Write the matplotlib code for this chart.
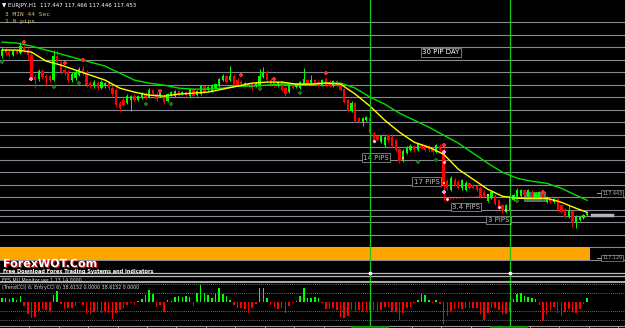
import matplotlib
matplotlib.use("Agg")
import matplotlib.pyplot as plt
import matplotlib.patheffects as pe
from matplotlib.patches import Rectangle
import numpy as np

# EURJPY H1 candles
opens = [
    118.128, 118.158, 118.148, 118.133, 118.153, 118.143, 118.173, 118.158, 118.133, 118.023,
    118.013, 118.053, 118.028, 118.028, 118.008, 118.128, 118.098, 118.058, 118.048, 118.008,
    118.018, 118.033, 118.063, 118.048, 117.993, 117.978, 117.993, 117.968, 117.978, 117.993,
    117.968, 117.958, 117.893, 117.908, 117.893, 117.908, 117.928, 117.908, 117.918, 117.938,
    117.923, 117.958, 117.938, 117.928, 117.928, 117.903, 117.933, 117.928, 117.953, 117.938,
    117.948, 117.928, 117.958, 117.933, 117.938, 117.978, 117.958, 117.953, 117.968, 117.978,
    118.008, 118.028, 118.008, 118.028, 118.008, 117.998, 117.983, 117.993, 117.988, 117.978,
    117.983, 118.023, 118.048, 118.008, 117.993, 117.978, 117.993, 117.968, 117.948, 117.988,
    117.973, 117.968, 117.988, 118.008, 117.993, 118.008, 117.998, 117.983, 118.013, 117.998,
    117.978, 118.003, 117.993, 117.963, 117.908, 117.853, 117.893, 117.818, 117.798, 117.808,
    117.818, 117.743, 117.728, 117.698, 117.683, 117.733, 117.723, 117.708, 117.663, 117.603,
    117.643, 117.658, 117.678, 117.658, 117.683, 117.683, 117.678, 117.668, 117.648, 117.678,
    117.658, 117.503, 117.458, 117.508, 117.498, 117.468, 117.458, 117.493, 117.483, 117.478,
    117.468, 117.448, 117.403, 117.418, 117.428, 117.408, 117.383, 117.348, 117.358, 117.408,
    117.423, 117.428, 117.458, 117.428, 117.448, 117.423, 117.423, 117.448, 117.398, 117.418,
    117.398, 117.413, 117.383, 117.363, 117.323, 117.353, 117.293, 117.308, 117.318, 117.333,
]
closes = [
    118.158, 118.143, 118.133, 118.153, 118.143, 118.178, 118.153, 118.133, 118.018, 118.008,
    118.053, 118.023, 118.018, 118.008, 118.128, 118.098, 118.048, 118.043, 118.008, 118.038,
    118.048, 118.063, 118.043, 117.983, 117.978, 117.998, 117.968, 117.998, 117.993, 117.968,
    117.938, 117.883, 117.868, 117.883, 117.928, 117.928, 117.908, 117.928, 117.943, 117.923,
    117.958, 117.938, 117.913, 117.948, 117.898, 117.938, 117.948, 117.953, 117.933, 117.948,
    117.933, 117.963, 117.928, 117.953, 117.978, 117.948, 117.973, 117.983, 117.988, 118.013,
    118.028, 117.998, 118.028, 117.983, 117.983, 117.988, 117.993, 117.978, 117.968, 117.993,
    118.028, 118.048, 118.008, 117.983, 117.983, 117.998, 117.958, 117.938, 117.988, 117.968,
    117.988, 117.998, 118.013, 117.988, 118.008, 117.993, 117.978, 118.008, 117.983, 117.978,
    118.003, 117.978, 117.958, 117.898, 117.853, 117.893, 117.803, 117.798, 117.818, 117.823,
    117.743, 117.708, 117.708, 117.728, 117.723, 117.708, 117.678, 117.658, 117.603, 117.653,
    117.668, 117.678, 117.658, 117.688, 117.668, 117.658, 117.658, 117.648, 117.683, 117.658,
    117.483, 117.468, 117.518, 117.483, 117.468, 117.508, 117.493, 117.468, 117.468, 117.458,
    117.423, 117.428, 117.428, 117.448, 117.388, 117.373, 117.353, 117.383, 117.428, 117.433,
    117.458, 117.458, 117.433, 117.458, 117.418, 117.443, 117.448, 117.408, 117.423, 117.398,
    117.413, 117.358, 117.348, 117.323, 117.358, 117.293, 117.328, 117.323, 117.333, 117.343,
]
highs = [
    118.173, 118.168, 118.158, 118.158, 118.163, 118.198, 118.183, 118.168, 118.148, 118.038,
    118.063, 118.063, 118.038, 118.033, 118.158, 118.158, 118.108, 118.068, 118.058, 118.048,
    118.058, 118.073, 118.078, 118.058, 118.003, 118.008, 118.003, 118.008, 117.998, 118.003,
    117.978, 117.968, 117.903, 117.918, 117.938, 117.933, 117.938, 117.933, 117.948, 117.948,
    117.968, 117.963, 117.948, 117.953, 117.938, 117.943, 117.953, 117.958, 117.958, 117.953,
    117.953, 117.968, 117.968, 117.958, 117.983, 117.983, 117.978, 117.988, 117.993, 118.018,
    118.038, 118.033, 118.078, 118.038, 118.018, 118.008, 117.998, 117.998, 117.993, 117.998,
    118.063, 118.073, 118.058, 118.018, 117.998, 118.003, 117.998, 117.978, 117.993, 117.993,
    117.993, 118.003, 118.068, 118.013, 118.033, 118.013, 118.008, 118.013, 118.023, 118.008,
    118.008, 118.008, 117.998, 117.968, 117.913, 117.903, 117.898, 117.823, 117.823, 117.828,
    117.823, 117.748, 117.738, 117.733, 117.728, 117.738, 117.733, 117.713, 117.668, 117.663,
    117.678, 117.688, 117.683, 117.693, 117.693, 117.688, 117.683, 117.678, 117.688, 117.688,
    117.668, 117.513, 117.528, 117.518, 117.508, 117.513, 117.503, 117.498, 117.488, 117.483,
    117.478, 117.458, 117.433, 117.453, 117.438, 117.413, 117.388, 117.388, 117.433, 117.438,
    117.468, 117.463, 117.463, 117.463, 117.458, 117.448, 117.453, 117.458, 117.428, 117.423,
    117.418, 117.418, 117.388, 117.368, 117.383, 117.358, 117.333, 117.328, 117.338, 117.348,
]
lows = [
    118.118, 118.133, 118.123, 118.128, 118.138, 118.138, 118.148, 118.108, 118.008, 117.968,
    118.003, 118.013, 117.983, 117.998, 118.003, 118.093, 118.038, 118.033, 117.998, 117.998,
    118.008, 118.028, 118.033, 117.973, 117.968, 117.968, 117.958, 117.963, 117.968, 117.958,
    117.928, 117.873, 117.848, 117.878, 117.888, 117.853, 117.903, 117.903, 117.913, 117.913,
    117.918, 117.933, 117.903, 117.923, 117.888, 117.898, 117.928, 117.923, 117.928, 117.933,
    117.928, 117.923, 117.918, 117.928, 117.933, 117.943, 117.953, 117.948, 117.963, 117.973,
    118.003, 117.993, 118.003, 117.978, 117.978, 117.983, 117.978, 117.968, 117.958, 117.973,
    117.978, 118.018, 118.003, 117.978, 117.973, 117.973, 117.953, 117.928, 117.943, 117.963,
    117.968, 117.963, 117.983, 117.983, 117.988, 117.988, 117.973, 117.978, 117.978, 117.973,
    117.973, 117.973, 117.953, 117.893, 117.848, 117.848, 117.798, 117.793, 117.778, 117.803,
    117.738, 117.698, 117.703, 117.693, 117.673, 117.698, 117.673, 117.653, 117.593, 117.598,
    117.638, 117.653, 117.648, 117.653, 117.663, 117.653, 117.648, 117.638, 117.643, 117.653,
    117.408, 117.458, 117.453, 117.478, 117.463, 117.458, 117.453, 117.463, 117.463, 117.453,
    117.418, 117.423, 117.398, 117.413, 117.383, 117.363, 117.343, 117.343, 117.353, 117.403,
    117.418, 117.423, 117.428, 117.423, 117.413, 117.418, 117.418, 117.403, 117.393, 117.393,
    117.393, 117.353, 117.343, 117.318, 117.318, 117.273, 117.268, 117.303, 117.313, 117.328,
]

# moving averages, read every 4th bar
ma_bars = list(range(0, 160, 4)) + [159]
ma_fast = [
    118.158, 118.158, 118.148, 118.103, 118.083, 118.058, 118.033, 118.008, 117.968, 117.948,
    117.933, 117.928, 117.938, 117.943, 117.948, 117.963, 117.978, 117.993, 117.998, 117.998,
    117.988, 117.988, 117.993, 117.988, 117.938, 117.878, 117.808, 117.748, 117.698, 117.673,
    117.638, 117.563, 117.513, 117.463, 117.428, 117.418, 117.418, 117.418, 117.398, 117.368,
    117.348,
]
ma_slow = [
    118.198, 118.193, 118.178, 118.158, 118.138, 118.118, 118.098, 118.078, 118.043, 118.008,
    117.993, 117.983, 117.968, 117.963, 117.963, 117.968, 117.978, 117.978, 117.983, 117.988,
    117.988, 117.988, 117.993, 117.993, 117.968, 117.923, 117.888, 117.843, 117.808, 117.773,
    117.733, 117.693, 117.643, 117.593, 117.548, 117.518, 117.503, 117.493, 117.468, 117.433,
    117.408,
]

# TrendCCI histogram in the sub window
cci = [
    50, 45, 30, 50, 20, 70, -50, -140, -180, -175,
    -100, -80, -90, -100, 75, 130, -20, -75, -65, -70,
    -45, -10, -30, -120, -140, -110, -100, -130, -100, -120,
    -190, -130, -90, -70, -30, -10, -40, 15, 30, 80,
    140, 85, -60, -35, -110, 20, 15, 60, 65, 60,
    70, 55, -45, 100, 190, 100, 75, 40, 85, 160,
    85, 65, 20, -30, -70, -70, -85, -120, -70, -20,
    160, 160, 40, -35, -60, -85, -70, -120, -50, -10,
    10, 70, 160, 40, 40, 55, 40, -10, -85, -85,
    -70, -90, -170, -185, -165, -90, -110, -90, -110, -100,
    -90, -90, -110, -90, -55, -55, -110, -110, -210, -125,
    -70, -55, -15, 25, 85, 75, 25, -15, 25, -25,
    -245, -160, -100, -80, -70, -80, -65, -70, -70, -65,
    -135, -200, -130, -70, -65, -90, -135, -135, -110, 35,
    95, 100, 70, 60, 40, 35, -30, -215, -135, -90,
    -55, -130, -160, -115, -80, -115, -125, -80, -20, 40,
]

# arrow signals (bar, price)
sell_bars = [6, 17, 22, 43, 65, 74, 88, 120, 147]
sell_prices = [118.198, 118.093, 118.108, 117.953, 118.033, 118.013, 118.043, 117.683, 117.448]
buy_bars = [0, 14, 21, 39, 46, 70, 81, 113, 118, 140]
buy_prices = [118.098, 117.973, 117.993, 117.888, 117.888, 117.963, 117.943, 117.598, 117.608, 117.403]

pips_labels = ["14 PIPS", "17 PIPS", "3.4 PIPS", "3 PIPS"]
pips_bars = [101.6, 115.4, 126.1, 134.9]
pips_prices = [117.620, 117.500, 117.375, 117.310]

W, H = 625, 328
fig = plt.figure(figsize=(W / 100, H / 100), dpi=100, facecolor='black')


def fx(px):
    return px / W


def fy(py):
    return 1 - py / H


ax = fig.add_axes([0, fy(282), 1, 282 / H])
ax2 = fig.add_axes([0, fy(326), 1, 44 / H])
for a in (ax, ax2):
    a.set_facecolor('black')
    a.set_xlim(-0.543, 169.29)
    a.set_yticks([])
    for s in a.spines.values():
        s.set_visible(False)
ax.set_xticks([])
ax.set_ylim(117.0, 118.408)
ax2.set_ylim(-273, 227)

# horizontal level lines
for lev in 118.298 - 0.0625 * np.arange(20):
    ax.axhline(lev, color='#8a8a94', lw=0.8, zorder=1)
ax.axhline(117.328, color='#8a8a94', lw=0.8, zorder=1)
ax.axhline(117.043, color='#bcbcbc', lw=0.9, zorder=1)
ax.axhline(117.028, color='#bcbcbc', lw=0.9, zorder=1)

# orange zone
ax.add_patch(Rectangle((-0.6, 117.1105), 160.4, 0.0625, fc='#ffa500', ec='none', zorder=2))

# teal box
ax.add_patch(Rectangle((141.8, 117.398), 6.0, 0.05, fc='#5a8a8c', ec='none', alpha=0.85, zorder=2))

# candles
idx = np.arange(len(closes))
o = np.array(opens)
c = np.array(closes)
col = np.where(c >= o, '#00ff00', '#ff0000')
ax.vlines(idx, lows, highs, colors=col, lw=0.7, zorder=3)
ax.bar(idx, np.maximum(np.abs(c - o), 0.004), bottom=np.minimum(o, c), width=0.62,
       color=col, linewidth=0, zorder=3)

# moving averages
ax.plot(ma_bars, ma_slow, color='#00e000', lw=1.0, zorder=4)
ax.plot(ma_bars, ma_fast, color='#ffff00', lw=1.0, zorder=4)

# signals
ax.scatter(sell_bars, sell_prices, marker='P', s=10, color='#ff2a2a', linewidths=0, zorder=5)
ax.scatter(buy_bars, buy_prices, marker='P', s=10, color='#1f6e1f', linewidths=0, zorder=5)
ax.scatter([8, 120, 120], [118.013, 117.648, 117.448], marker='P', s=8, color='#ff88ff',
           linewidths=0, zorder=5)
ax.scatter([101, 120, 121, 135], [117.703, 117.598, 117.413, 117.373], marker='o', s=5,
           facecolor='white', edgecolor='#ff3030', linewidths=0.4, zorder=5)
ax.scatter([109, 120, 132, 137], [117.618, 117.493, 117.433, 117.358], marker='s', s=4,
           color='#ffc040', linewidths=0, zorder=5)
ax.plot([121, 133], [117.413, 117.433], color='#ff2020', ls=':', lw=0.8, zorder=4)

# pips labels
box = dict(boxstyle='square,pad=0.2', fc='black', ec='#8a8a8a', lw=0.6)
for lab, b, p in zip(pips_labels, pips_bars, pips_prices):
    ax.text(b, p, lab, color='#b8b8b8', fontsize=5, ha='center', va='center', bbox=box, zorder=6)
ax.text(119.3, 118.146, "30 PIP DAY", color='white', fontsize=5, ha='center', va='center',
        bbox=dict(boxstyle='square,pad=0.2', fc='black', ec='#8a8a8a', lw=0.6), zorder=6)

# current price marker and right labels
ax.plot([160.2, 165.8], [117.333, 117.333], color='#b4b4b4', lw=2.5, zorder=4)
for p, lab in [(117.443, "117.443"), (117.120, "117.120")]:
    ax.plot([161.8, 163.6], [p, p], color='#a0a0a0', lw=0.7, zorder=4)
    ax.text(168.6, p, lab, color='#b0b0b0', fontsize=3.5, ha='right', va='center',
            bbox=dict(boxstyle='square,pad=0.15', fc='black', ec='#8a8a8a', lw=0.5), zorder=6)

# vertical lines
for a in (ax, ax2):
    a.axvline(100, color='#18c818', lw=0.9, zorder=6)
    a.axvline(138, color='#18c818', lw=0.9, zorder=6)
ax.plot([100, 138], [117.043, 117.043], 's', color='white', ms=1.5, zorder=7)

# sub window
ax2.bar(idx, cci, width=0.42, color=['#00ff00' if v > 0 else '#ff0000' for v in cci],
        linewidth=0, zorder=3)
for lev in (200, 100, -100, -200):
    ax2.axhline(lev, color='#8c8c8c', lw=0.6, ls=(0, (1, 1.5)), zorder=1)
ax2.spines['top'].set_visible(True)
ax2.spines['top'].set_color('#c8c8c8')
ax2.spines['top'].set_linewidth(1.2)
ax2.spines['bottom'].set_visible(True)
ax2.spines['bottom'].set_color('#9a9a9a')
ax2.spines['bottom'].set_linewidth(0.8)
ax2.set_xticks(7.4 + 8 * np.arange(21))
ax2.set_xticklabels([])
ax2.tick_params(axis='x', direction='out', length=2, width=0.6, color='#c0c0c0')

fig.add_artist(plt.Line2D([fx(352), fx(388)], [fy(327), fy(327)], color='#00a000', lw=1.2))
fig.add_artist(plt.Line2D([fx(491), fx(527)], [fy(327), fy(327)], color='#00a000', lw=1.2))

# texts
fig.text(fx(2), fy(5), "\u25bc EURJPY,H1  117.447 117.466 117.446 117.453", color='white',
         fontsize=4, va='center')
fig.text(fx(5), fy(14), "3 MIN 44 Sec", color='#d2be78', fontsize=4.5,
         family='DejaVu Sans Mono', va='center')
fig.text(fx(5), fy(22), "1.0 pips", color='#d2be78', fontsize=4.5,
         family='DejaVu Sans Mono', va='center')
fig.text(fx(3), fy(264), "ForexWOT.Com", color='white', fontsize=8, fontweight='bold',
         va='center', path_effects=[pe.withSimplePatchShadow(offset=(0.8, -0.8),
                                                             shadow_rgbFace='#ff0000', alpha=1)])
fig.text(fx(3), fy(272), "Free Download Forex Trading Systems and Indicators", color='white',
         fontsize=3.6, fontweight='bold', va='center')
fig.text(fx(2), fy(280), "EES MU Monitor ver 1.13 14.0000", color='#dddddd', fontsize=3.4,
         va='center')
fig.text(fx(2), fy(287.5), "(TrendCCI) 6; EntryCCI 6) 38.6152 0.0000 38.6152 0.0000",
         color='#dddddd', fontsize=3.4, va='center')

fig.savefig('out.png', dpi=100, facecolor='black')
